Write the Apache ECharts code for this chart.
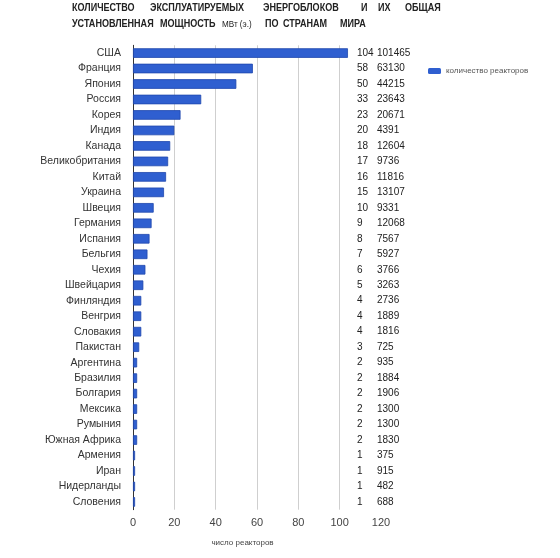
<!DOCTYPE html>
<html lang="ru">
<head>
    <meta charset="UTF-8">
    <title>Энергоблоки по странам</title>
    <style>
        html, body { margin: 0; padding: 0; background: #fff; }
    </style>
</head>
<body>
    <div id="bars" style="width: 560px;height: 558px"></div>

    <script src="https://cdn.jsdelivr.net/npm/echarts@6/dist/echarts.min.js"></script>
    <script>
        // страны сверху вниз, как на картинке
        var countries = ['США', 'Франция', 'Япония', 'Россия', 'Корея', 'Индия', 'Канада', 'Великобритания',
            'Китай', 'Украина', 'Швеция', 'Германия', 'Испания', 'Бельгия', 'Чехия', 'Швейцария',
            'Финляндия', 'Венгрия', 'Словакия', 'Пакистан', 'Аргентина', 'Бразилия', 'Болгария',
            'Мексика', 'Румыния', 'Южная Африка', 'Армения', 'Иран', 'Нидерланды', 'Словения'];
        // количество реакторов
        var reactors = [104, 58, 50, 33, 23, 20, 18, 17, 16, 15, 10, 9, 8, 7, 6, 5, 4, 4, 4, 3,
            2, 2, 2, 2, 2, 2, 1, 1, 1, 1];
        // мощность, МВт (э.)
        var powerMW = [101465, 63130, 44215, 23643, 20671, 4391, 12604, 9736, 11816, 13107, 9331, 12068,
            7567, 5927, 3766, 3263, 2736, 1889, 1816, 725, 935, 1884, 1906, 1300, 1300, 1830,
            375, 915, 482, 688];
        var xTicks = [0, 20, 40, 60, 80, 100, 120];

        // заголовок: слова разнесены по ширине, как в оригинале
        var titleLine1 = [['КОЛИЧЕСТВО', 72], ['ЭКСПЛУАТИРУЕМЫХ', 150], ['ЭНЕРГОБЛОКОВ', 263],
            ['И', 361], ['ИХ', 378], ['ОБЩАЯ', 405]];
        var titleLine2 = [['УСТАНОВЛЕННАЯ', 72], ['МОЩНОСТЬ', 160], ['ПО', 265], ['СТРАНАМ', 283], ['МИРА', 340]];

        var titleFont = '"Liberation Sans", Arial, sans-serif';
        var graphics = [];
        titleLine1.forEach(function (w) {
            graphics.push({type: 'text', x: w[1], y: 3, scaleX: 0.86,
                style: {text: w[0], font: 'bold 10.5px ' + titleFont, fill: '#222'}});
        });
        titleLine2.forEach(function (w) {
            graphics.push({type: 'text', x: w[1], y: 19, scaleX: 0.86,
                style: {text: w[0], font: 'bold 10.5px ' + titleFont, fill: '#222'}});
        });
        graphics.push({type: 'text', x: 222, y: 20, scaleX: 0.9,
            style: {text: 'МВт (э.)', font: '9px ' + titleFont, fill: '#222'}});

        var myChart = echarts.init(document.getElementById('bars'));

        myChart.setOption({
            animation: false,
            textStyle: {fontFamily: titleFont},
            graphic: graphics,
            legend: {
                data: ['количество реакторов'],
                left: 423,
                top: 62,
                itemWidth: 13,
                itemHeight: 6,
                itemStyle: {borderWidth: 0},
                textStyle: {fontSize: 8, color: '#555'}
            },
            grid: {
                left: 133,
                right: 179,
                top: 45.3,
                bottom: 48.3
            },
            xAxis: {
                type: 'value',
                min: xTicks[0],
                max: xTicks[xTicks.length - 1],
                interval: 20,
                name: 'число реакторов',
                nameLocation: 'middle',
                nameGap: 29,
                nameTextStyle: {fontSize: 8, color: '#444', padding: [0, 29, 0, 0]},
                axisLine: {show: false},
                axisTick: {show: false},
                axisLabel: {fontSize: 11, color: '#444', margin: 8},
                splitLine: {
                    show: true,
                    showMinLine: false,
                    showMaxLine: false,
                    lineStyle: {color: '#cfcfcf', width: 1}
                }
            },
            yAxis: [
                {
                    type: 'category',
                    inverse: true,
                    data: countries,
                    axisLine: {show: true, lineStyle: {color: '#333', width: 1}},
                    axisTick: {show: false},
                    axisLabel: {interval: 0, fontSize: 10.5, color: '#333', margin: 12}
                },
                {
                    type: 'category',
                    inverse: true,
                    position: 'right',
                    data: countries,
                    axisLine: {show: false},
                    axisTick: {show: false},
                    axisLabel: {
                        interval: 0,
                        margin: -24,
                        formatter: function (value, idx) {
                            return '{a|' + reactors[idx] + '}{b|' + powerMW[idx] + '}';
                        },
                        rich: {
                            a: {fontSize: 10, color: '#222', width: 20, align: 'left'},
                            b: {fontSize: 10, color: '#222', align: 'left'}
                        }
                    }
                }
            ],
            series: [
                {
                    name: 'количество реакторов',
                    type: 'bar',
                    data: reactors,
                    barCategoryGap: '38%',
                    itemStyle: {color: '#2f5fd0', borderColor: '#1f48ad', borderWidth: 0.8}
                }
            ]
        });
    </script>
</body>
</html>
